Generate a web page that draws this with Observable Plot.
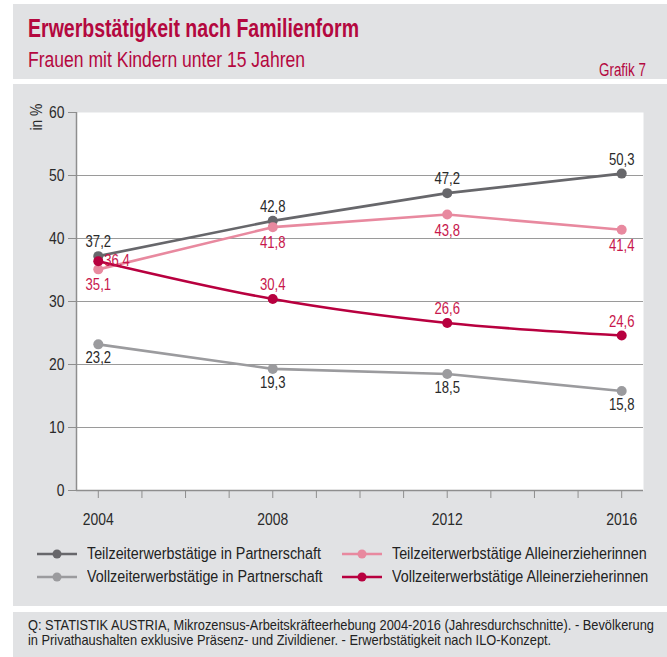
<!DOCTYPE html>
<html><head><meta charset="utf-8">
<script src="https://cdn.jsdelivr.net/npm/d3@7"></script>
<script src="https://cdn.jsdelivr.net/npm/@observablehq/plot@0.6"></script>
<style>
body{margin:0;background:#fff;}
#wrap{position:relative;width:667px;height:657px;overflow:hidden;font-family:"Liberation Sans",Arial,sans-serif;color:#222;}
.box{position:absolute;left:13px;right:0;background:#e1e2e4;}
.fit{position:absolute;display:inline-block;white-space:nowrap;transform-origin:0 50%;}
#title{left:28px;top:14px;font-size:25px;line-height:28px;font-weight:bold;color:#b4083f;}
#subtitle{left:28px;top:47px;font-size:22px;line-height:26px;color:#b4083f;}
#grafik{left:599px;top:60px;font-size:18px;line-height:20px;color:#b4083f;}
#chart{position:absolute;left:13px;top:84px;}
.leg{position:absolute;display:flex;align-items:center;white-space:nowrap;}
.leg span{font-size:16px;color:#222;display:inline-block;transform-origin:0 50%;}
#foot1{left:28px;top:617px;font-size:14.5px;line-height:16px;color:#222;}
#foot2{left:28px;top:632px;font-size:14.5px;line-height:16px;color:#222;}
</style></head><body>
<div id="wrap">
  <div class="box" style="top:4px;height:75px;"></div>
  <div class="box" style="top:84px;height:522px;"></div>
  <div class="box" style="top:612px;height:45px;"></div>
  <div id="title" class="fit" data-w="331">Erwerbstätigkeit nach Familienform</div>
  <div id="subtitle" class="fit" data-w="277">Frauen mit Kindern unter 15 Jahren</div>
  <div id="grafik" class="fit" data-w="47">Grafik 7</div>
  <div id="chart"></div>
  <div id="legend"></div>
  <div id="foot1" class="fit" data-w="626">Q: STATISTIK AUSTRIA, Mikrozensus-Arbeitskräfteerhebung 2004-2016 (Jahresdurchschnitte). - Bevölkerung</div>
  <div id="foot2" class="fit" data-sameas="foot1">in Privathaushalten exklusive Präsenz- und Zivildiener. - Erwerbstätigkeit nach ILO-Konzept.</div>
</div>
<script>
const years = [2004, 2008, 2012, 2016];
const teilPartner = [37.2, 42.8, 47.2, 50.3];
const vollPartner = [23.2, 19.3, 18.5, 15.8];
const teilAllein = [35.1, 41.8, 43.8, 41.4];
const vollAllein = [36.4, 30.4, 26.6, 24.6];
const seriesNames = [
  "Teilzeiterwerbstätige in Partnerschaft",
  "Vollzeiterwerbstätige in Partnerschaft",
  "Teilzeiterwerbstätige Alleinerzieherinnen",
  "Vollzeiterwerbstätige Alleinerzieherinnen"
];
const yTicks = [0, 10, 20, 30, 40, 50, 60];
const yAxisLabel = "in %";

const colors = {
  [seriesNames[0]]: "#67676b",
  [seriesNames[1]]: "#9b9b9e",
  [seriesNames[2]]: "#e8899f",
  [seriesNames[3]]: "#b8003f"
};
const labelColors = {
  [seriesNames[0]]: "#2a2a2a",
  [seriesNames[1]]: "#2a2a2a",
  [seriesNames[2]]: "#c8174c",
  [seriesNames[3]]: "#c8174c"
};
const valuesBy = [teilPartner, vollPartner, teilAllein, vollAllein];
const rows = [];
seriesNames.forEach((s, i) => years.forEach((y, j) => rows.push({series: s, year: y, value: valuesBy[i][j]})));
const fmt = v => v.toFixed(1).replace(".", ",");
const drawOrder = [1, 0, 2, 3];
const FONT = '"Liberation Sans",Arial,sans-serif';
const NARROW = 0.82;

const marks = [
  Plot.frame({fill: "white", stroke: null}),
  Plot.gridY(yTicks.filter(t => t > 0 && t < 60), {stroke: "#9a9a9a", strokeOpacity: 1, strokeWidth: 1}),
  Plot.ruleY([0], {stroke: "#8e8e8e", strokeWidth: 1.5}),
  Plot.ruleX([2003.5], {stroke: "#8e8e8e", strokeWidth: 1.5}),
  Plot.axisY({ticks: yTicks, tickSize: 8, tickPadding: 4, tickFormat: d => `${d}`, fontSize: 17, fill: "#2a2a2a", stroke: "#8e8e8e", label: null}),
  Plot.axisX({ticks: d3.range(2004, 2017), tickSize: 8, tickPadding: 14, tickFormat: d => (d % 4 === 0 ? `${d}` : ""), fontSize: 17, fill: "#2a2a2a", stroke: "#8e8e8e", label: null}),
  Plot.text([yAxisLabel], {frameAnchor: "top-left", rotate: -90, textAnchor: "end", dx: -47, dy: -9, fontSize: 17, fill: "#2a2a2a"})
];
drawOrder.forEach(i => {
  const s = seriesNames[i];
  const d = rows.filter(r => r.series === s);
  marks.push(Plot.line(d, {x: "year", y: "value", stroke: colors[s], strokeWidth: 2.6, curve: i === 3 ? "monotone-x" : "linear"}));
  marks.push(Plot.dot(d, {x: "year", y: "value", fill: colors[s], r: 5}));
});
const above = [0, 3];
seriesNames.forEach((s, i) => {
  let d = rows.filter(r => r.series === s);
  const common = {x: "year", y: "value", text: r => fmt(r.value), fill: labelColors[s], fontSize: 16};
  if (i === 3) {
    marks.push(Plot.text(d.filter(r => r.year === years[0]), {...common, dx: 6, textAnchor: "start"}));
    d = d.filter(r => r.year !== years[0]);
  }
  marks.push(Plot.text(d, {...common, dy: above.includes(i) ? -14 : (i === 2 ? 16 : 14)}));
});

const chart = Plot.plot({
  width: 654,
  height: 451,
  marginTop: 28,
  marginLeft: 63,
  marginRight: 24,
  marginBottom: 45,
  style: {background: "transparent", fontFamily: FONT, overflow: "visible"},
  x: {domain: [2003.5, 2016.5]},
  y: {domain: [0, 60]},
  marks
});
// condense text horizontally around each text's anchor point
chart.querySelectorAll("text").forEach(t => {
  const x = +(t.getAttribute("x") || 0);
  const tr = t.getAttribute("transform") || "";
  t.setAttribute("transform", `${tr} translate(${x},0) scale(${NARROW},1) translate(${-x},0)`);
});
document.getElementById("chart").appendChild(chart);

// legend
const legendPos = [[37, 554], [37, 577], [342, 554], [342, 577]];
const leg = document.getElementById("legend");
const spans = [];
seriesNames.forEach((s, i) => {
  const div = document.createElement("div");
  div.className = "leg";
  div.style.left = legendPos[i][0] + "px";
  div.style.top = (legendPos[i][1] - 10) + "px";
  div.style.height = "20px";
  div.innerHTML = `<svg width="40" height="12" style="margin-right:10px"><line x1="0" x2="40" y1="6" y2="6" stroke="${colors[s]}" stroke-width="2.6"/><circle cx="20" cy="6" r="4.5" fill="${colors[s]}"/></svg><span>${s}</span>`;
  leg.appendChild(div);
  spans.push(div.querySelector("span"));
});
const legScale = 234 / spans[0].getBoundingClientRect().width;
spans.forEach(sp => sp.style.transform = `scaleX(${legScale})`);

// fit HTML texts
const scales = {};
document.querySelectorAll(".fit").forEach(el => {
  let s;
  if (el.dataset.w) s = +el.dataset.w / el.getBoundingClientRect().width;
  else s = scales[el.dataset.sameas];
  scales[el.id] = s;
  el.style.transform = `scaleX(${s})`;
});
</script>
</body></html>
